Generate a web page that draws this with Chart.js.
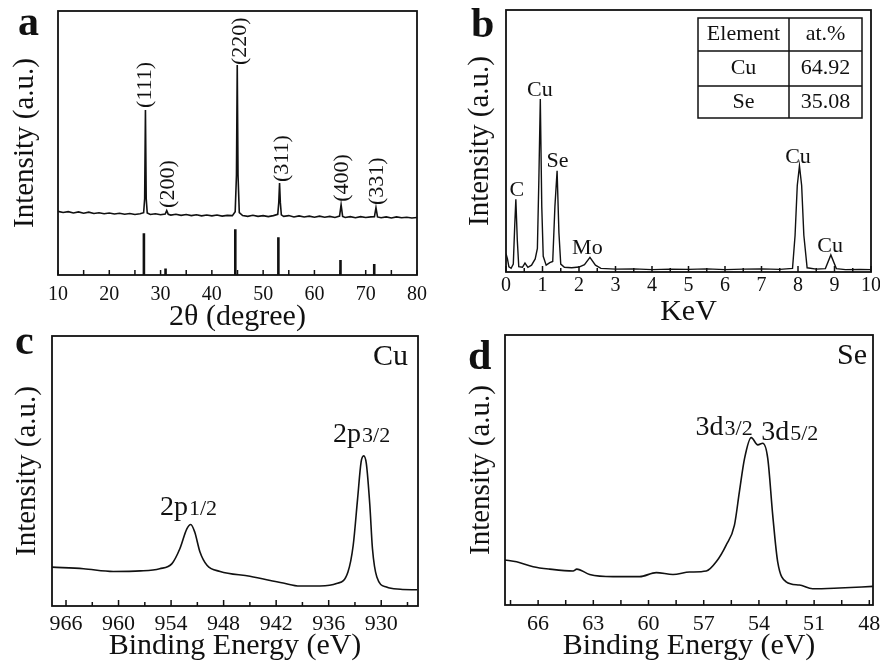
<!DOCTYPE html>
<html>
<head>
<meta charset="utf-8">
<script src="https://cdn.jsdelivr.net/npm/chart.js@4.4.1/dist/chart.umd.min.js"></script>
<style>
  body { margin: 0; background: #fff; width: 880px; height: 664px; position: relative; overflow: hidden; }
  canvas { position: absolute; }
  .tag { position: absolute; font: bold 42px 'Liberation Serif', serif; line-height: 1; color: #111; }
</style>
</head>
<body>
<canvas id="chartA" width="440" height="340" style="left:0;top:0"></canvas>
<canvas id="chartB" width="440" height="340" style="left:440px;top:0"></canvas>
<canvas id="chartC" width="440" height="332" style="left:0;top:332px"></canvas>
<canvas id="chartD" width="440" height="332" style="left:440px;top:332px"></canvas>
<div class="tag" style="left:18px;top:0">a</div>
<div class="tag" style="left:471px;top:2px">b</div>
<div class="tag" style="left:15px;top:319px">c</div>
<div class="tag" style="left:468px;top:334px">d</div>
<script>
const FONT = "'Liberation Serif', 'Times New Roman', serif";
Chart.defaults.font.family = FONT;
Chart.defaults.color = '#111';

// (a) XRD
const xrdAngle = [10, 11, 12, 13, 14, 15, 16, 17, 18, 19, 20, 21, 22, 23, 24, 25, 26,
  26.7, 26.9, 27.05, 27.2, 27.4, 28, 29, 30, 30.9, 31.2, 31.5, 32, 33, 34, 35, 36, 37, 38, 39, 40, 41, 42, 43, 44,
  44.55, 44.8, 44.95, 45.1, 45.35, 46, 47, 48, 49, 50, 51, 52,
  52.85, 53.05, 53.2, 53.35, 53.55, 54, 55, 56, 57, 58, 59, 60, 61, 62, 63, 64,
  64.9, 65.2, 65.5, 66, 67, 68, 69, 70, 71, 71.7, 72.0, 72.3, 73, 74, 75, 76, 77, 78, 79, 80];
const xrdCounts = [24.1, 23.7, 24.0, 23.5, 23.9, 23.4, 23.8, 23.3, 23.6, 23.2, 23.5, 23.1, 23.4, 23.0, 23.3, 22.9, 23.2,
  23.6, 29, 62.5, 29, 23.5, 22.9, 23.2, 22.8, 23.1, 24.4, 23.0, 22.7, 23.0, 22.6, 22.9, 22.5, 22.8, 22.4, 22.7, 22.4, 22.7, 22.3, 22.6, 22.5,
  24.0, 38, 79.5, 38, 23.6, 22.5, 22.2, 22.6, 22.2, 22.5, 22.1, 22.5,
  23.0, 27.5, 34.8, 27.5, 22.8, 22.2, 22.5, 22.0, 22.4, 22.0, 22.3, 21.9, 22.3, 21.9, 22.2, 21.8,
  22.3, 26.6, 22.2, 21.8, 22.1, 21.7, 22.1, 21.8, 22.0, 22.1, 25.5, 22.0, 21.7, 22.0, 21.6, 22.0, 21.7, 21.9, 21.6, 21.8];
const refStickPos = [26.75, 30.97, 44.57, 52.97, 65.08, 71.66];
const refStickHeight = [15.8, 2.5, 17.3, 14.3, 5.7, 4.2];
const xrdPeakLabels = ['(111)', '(200)', '(220)', '(311)', '(400)', '(331)'];
const xrdPeakLabelX = [27.1, 31.4, 45.5, 53.7, 65.4, 72.2];
const xrdPeakLabelY = [63.3, 25.4, 79.5, 35.2, 27.7, 26.5];
const xrdTicks = [10, 20, 30, 40, 50, 60, 70, 80];
const xrdMinor = [15, 25, 35, 45, 55, 65, 75];

// (b) EDS
const edsEnergy = [0, 0.04, 0.08, 0.14, 0.2, 0.24, 0.27, 0.31, 0.35, 0.45, 0.52, 0.6, 0.7, 0.8, 0.86, 0.9, 0.94, 0.98, 1.02,
  1.1, 1.2, 1.28, 1.34, 1.4, 1.45, 1.5, 1.6, 1.8, 2.0, 2.15, 2.3, 2.45, 2.6, 3.0, 3.5, 4.0, 4.5, 5.0, 5.5, 6.0, 6.5, 7.0, 7.5,
  7.85, 7.92, 7.98, 8.04, 8.1, 8.16, 8.25, 8.5, 8.75, 8.9, 9.05, 9.3, 9.7, 10];
const edsCounts = [7.0, 5, 2, 1.4, 3, 18, 27.8, 12, 2, 1.8, 3.4, 1.8, 2.6, 5, 9, 35, 66, 25, 6,
  2.6, 3.6, 4, 25, 38.6, 15, 3, 1.8, 1.6, 1.9, 2.8, 5.6, 2.6, 1.4, 1.1, 1.2, 0.9, 1.1, 1.0, 1.2, 0.9, 1.1, 1.2, 1.0,
  1.4, 14, 33, 40.5, 33, 14, 1.6, 1.1, 1.3, 6.5, 1.3, 0.9, 1.0, 0.9];
const edsPeakLabels = ['C', 'Cu', 'Se', 'Mo', 'Cu', 'Cu'];
const edsPeakLabelX = [0.30, 0.93, 1.41, 2.23, 8.0, 8.88];
const edsPeakLabelY = [31.4, 69.2, 42.3, 9.2, 44.0, 9.9];
const edsTicks = [0, 1, 2, 3, 4, 5, 6, 7, 8, 9, 10];
const edsMinor = [0.5, 1.5, 2.5, 3.5, 4.5, 5.5, 6.5, 7.5, 8.5, 9.5];
const tableHead = ['Element', 'at.%'];
const tableElements = ['Cu', 'Se'];
const tableAtPct = ['64.92', '35.08'];

// (c) XPS Cu 2p
const cuBE = [967.6, 964.0, 960.6, 957.5, 955.3, 953.9, 953.0, 952.2, 951.75, 951.3, 950.7, 949.9, 948.4, 945.0, 941.2,
  939.3, 937.0, 935.1, 933.8, 933.2, 932.7, 932.3, 932.0, 931.7, 931.3, 931.0, 930.5, 929.4, 927.8, 925.9];
const cuIntensity = [14.4, 13.8, 12.8, 13.0, 13.8, 15.7, 21.2, 28.6, 30.2, 27.4, 20.0, 15.1, 12.8, 11.0, 8.5,
  7.4, 7.4, 8.3, 12.6, 22.5, 39.7, 53.3, 55.6, 52.7, 37.3, 21.2, 10.7, 7.0, 6.2, 6.0];
const cuPeakLabels = [['2p', '1/2'], ['2p', '3/2']];
const cuPeakLabelX = [952.06, 932.3];
const cuPeakLabelY = [33.7, 60.7];
const cuTicks = [966, 960, 954, 948, 942, 936, 930];
const cuMinor = [963, 957, 951, 945, 939, 933, 927];

// (d) XPS Se 3d
const seBE = [67.81, 67.17, 66.27, 65.37, 64.1, 63.9, 63.2, 61.93, 60.48, 59.58, 58.67, 57.77, 56.86, 56.32, 55.78,
  55.33, 55.06, 54.78, 54.42, 54.06, 53.79, 53.52, 53.25, 52.98, 52.52, 51.8, 51.08, 49.63, 47.8];
const seIntensity = [16.7, 16.0, 14.2, 13.3, 12.6, 13.3, 11.3, 10.5, 10.5, 12.0, 11.3, 12.2, 12.6, 16.0, 22.2,
  29.6, 42.0, 54.3, 62.0, 59.3, 59.9, 54.3, 33.3, 16.0, 8.6, 7.4, 6.0, 6.3, 6.9];
const sePeakLabels = [['3d', '3/2'], ['3d', '5/2']];
const sePeakLabelX = [55.92, 52.35];
const sePeakLabelY = [63.1, 61.2];
const seTicks = [66, 63, 60, 57, 54, 51, 48];
const seMinor = [67.5, 64.5, 61.5, 58.5, 55.5, 52.5, 49.5];

const toPoints = (xs, ys) => xs.map((x, i) => ({ x: x, y: ys[i] }));

function sticks(pos, h) {
  const pts = [];
  pos.forEach((p, i) => { pts.push({ x: p, y: 0 }, { x: p, y: h[i] }, { x: p, y: null }); });
  return pts;
}

// frame, inward ticks and text labels drawn on top of the plot
function framePlugin(o) {
  return {
    id: 'frame',
    afterDraw(chart) {
      const { ctx, chartArea: a } = chart;
      const x = chart.scales.x, y = chart.scales.y;
      ctx.save();
      ctx.strokeStyle = '#111';
      ctx.lineWidth = 1.8;
      ctx.strokeRect(a.left, a.top, a.right - a.left, a.bottom - a.top);
      ctx.lineWidth = 1.5;
      ctx.beginPath();
      o.major.forEach(v => { const p = x.getPixelForValue(v); ctx.moveTo(p, a.bottom); ctx.lineTo(p, a.bottom - o.majorLen); });
      o.minor.forEach(v => { const p = x.getPixelForValue(v); ctx.moveTo(p, a.bottom); ctx.lineTo(p, a.bottom - o.minorLen); });
      ctx.stroke();
      ctx.fillStyle = '#111';
      o.labels.forEach(l => {
        ctx.save();
        ctx.translate(x.getPixelForValue(l.x), y.getPixelForValue(l.y));
        if (l.rotate) ctx.rotate(-Math.PI / 2);
        ctx.font = l.size + 'px ' + FONT;
        ctx.textBaseline = l.baseline || 'middle';
        if (l.sub) {
          const w1 = ctx.measureText(l.text).width;
          ctx.font = l.subSize + 'px ' + FONT;
          const w2 = ctx.measureText(l.sub).width;
          ctx.textAlign = 'left';
          ctx.fillText(l.sub, -(w1 + w2) / 2 + w1 + 1, 0);
          ctx.font = l.size + 'px ' + FONT;
          ctx.fillText(l.text, -(w1 + w2) / 2, 0);
        } else {
          ctx.textAlign = l.align || 'center';
          ctx.fillText(l.text, 0, 0);
        }
        ctx.restore();
      });
      if (o.extra) o.extra(ctx, a);
      ctx.restore();
    }
  };
}

function spectrumChart(id, c) {
  return new Chart(document.getElementById(id), {
    type: 'line',
    data: { datasets: c.datasets },
    options: {
      responsive: false,
      animation: false,
      devicePixelRatio: 1,
      layout: { padding: c.padding },
      plugins: { legend: { display: false }, tooltip: { enabled: false } },
      scales: {
        x: {
          type: 'linear', min: c.xMin, max: c.xMax, reverse: !!c.reverse,
          grid: { display: false, drawTicks: false }, border: { display: false },
          afterBuildTicks: s => { s.ticks = c.xTicks.map(v => ({ value: v })); },
          afterFit: s => { s.height = c.xHeight; s.paddingLeft = 0; s.paddingRight = 0; },
          ticks: { font: { size: c.tickSize, lineHeight: 1 }, padding: c.tickPad, maxRotation: 0, autoSkip: false, color: '#111' },
          title: { display: true, text: c.xTitle, color: '#111', font: { size: 30, lineHeight: 1 }, padding: { top: 0, bottom: c.xTitlePad } }
        },
        y: {
          min: 0, max: 100,
          grid: { display: false, drawTicks: false }, border: { display: false },
          ticks: { display: false },
          afterFit: s => { s.width = c.yWidth; s.paddingTop = 0; s.paddingBottom = 0; },
          title: { display: true, text: 'Intensity (a.u.)', color: '#111', font: { size: c.yTitleSize, lineHeight: 1 }, padding: { top: c.yTitlePad, bottom: 0 } }
        }
      }
    },
    plugins: [framePlugin(c.frame)]
  });
}

const lineStyle = { borderColor: '#111', pointRadius: 0, fill: false };

// (a)
spectrumChart('chartA', {
  datasets: [
    Object.assign({ data: toPoints(xrdAngle, xrdCounts), borderWidth: 1.6, tension: 0 }, lineStyle),
    Object.assign({ data: sticks(refStickPos, refStickHeight), borderWidth: 2.6, spanGaps: false }, lineStyle)
  ],
  padding: { top: 11, right: 23, left: 0, bottom: 0 },
  xMin: 10, xMax: 80, xTicks: xrdTicks, xHeight: 65, tickSize: 20, tickPad: 10,
  xTitle: '2θ (degree)', xTitlePad: 8,
  yWidth: 58, yTitleSize: 29, yTitlePad: 11,
  frame: {
    major: xrdTicks, minor: xrdMinor, majorLen: 5, minorLen: 5,
    labels: xrdPeakLabels.map((t, i) => ({ text: t, x: xrdPeakLabelX[i], y: xrdPeakLabelY[i], size: 22, rotate: true, align: 'left' }))
  }
});

// (b)
spectrumChart('chartB', {
  datasets: [Object.assign({ data: toPoints(edsEnergy, edsCounts), borderWidth: 1.4, tension: 0 }, lineStyle)],
  padding: { top: 10, right: 9, left: 0, bottom: 0 },
  xMin: 0, xMax: 10, xTicks: edsTicks, xHeight: 68, tickSize: 20, tickPad: 4,
  xTitle: 'KeV', xTitlePad: 13,
  yWidth: 66, yTitleSize: 29, yTitlePad: 26,
  frame: {
    major: edsTicks, minor: edsMinor, majorLen: 6, minorLen: 4,
    labels: edsPeakLabels.map((t, i) => ({ text: t, x: edsPeakLabelX[i], y: edsPeakLabelY[i], size: 22 })),
    extra: (ctx, a) => {
      const L = a.left + 192, R = a.left + 356, T = a.top + 8, B = a.top + 108, C = a.left + 283;
      const rows = [a.top + 41, a.top + 76];
      ctx.lineWidth = 1.5;
      ctx.strokeRect(L, T, R - L, B - T);
      ctx.beginPath();
      ctx.moveTo(C, T); ctx.lineTo(C, B);
      rows.forEach(r => { ctx.moveTo(L, r); ctx.lineTo(R, r); });
      ctx.stroke();
      ctx.font = '22px ' + FONT;
      ctx.textAlign = 'center';
      ctx.textBaseline = 'middle';
      const cx1 = (L + C) / 2, cx2 = (C + R) / 2;
      const cy = [(T + rows[0]) / 2, (rows[0] + rows[1]) / 2, (rows[1] + B) / 2];
      ctx.fillText(tableHead[0], cx1, cy[0]);
      ctx.fillText(tableHead[1], cx2, cy[0]);
      tableElements.forEach((e, i) => {
        ctx.fillText(e, cx1, cy[i + 1]);
        ctx.fillText(tableAtPct[i], cx2, cy[i + 1]);
      });
    }
  }
});

// (c)
spectrumChart('chartC', {
  datasets: [Object.assign({ data: toPoints(cuBE, cuIntensity), borderWidth: 1.6, cubicInterpolationMode: 'monotone' }, lineStyle)],
  padding: { top: 4, right: 22, left: 0, bottom: 0 },
  xMin: 925.8, xMax: 967.6, reverse: true, xTicks: cuTicks, xHeight: 58, tickSize: 22, tickPad: 7,
  xTitle: 'Binding Energy (eV)', xTitlePad: 3,
  yWidth: 52, yTitleSize: 29, yTitlePad: 13,
  frame: {
    major: cuTicks, minor: cuMinor, majorLen: 6, minorLen: 4,
    labels: cuPeakLabels.map((t, i) => ({ text: t[0], sub: t[1], x: cuPeakLabelX[i], y: cuPeakLabelY[i], size: 28, subSize: 22, baseline: 'alphabetic' })),
    extra: (ctx, a) => {
      ctx.font = '30px ' + FONT;
      ctx.textAlign = 'right';
      ctx.textBaseline = 'alphabetic';
      ctx.fillText('Cu', a.right - 10, a.top + 29);
    }
  }
});

// (d)
spectrumChart('chartD', {
  datasets: [Object.assign({ data: toPoints(seBE, seIntensity), borderWidth: 1.6, cubicInterpolationMode: 'monotone' }, lineStyle)],
  padding: { top: 3, right: 7, left: 0, bottom: 0 },
  xMin: 47.8, xMax: 67.8, reverse: true, xTicks: seTicks, xHeight: 59, tickSize: 22, tickPad: 8,
  xTitle: 'Binding Energy (eV)', xTitlePad: 3,
  yWidth: 65, yTitleSize: 29, yTitlePad: 27,
  frame: {
    major: seTicks, minor: seMinor, majorLen: 5, minorLen: 5,
    labels: sePeakLabels.map((t, i) => ({ text: t[0], sub: t[1], x: sePeakLabelX[i], y: sePeakLabelY[i], size: 28, subSize: 22, baseline: 'alphabetic' })),
    extra: (ctx, a) => {
      ctx.font = '30px ' + FONT;
      ctx.textAlign = 'right';
      ctx.textBaseline = 'alphabetic';
      ctx.fillText('Se', a.right - 6, a.top + 29);
    }
  }
});
</script>
</body>
</html>
